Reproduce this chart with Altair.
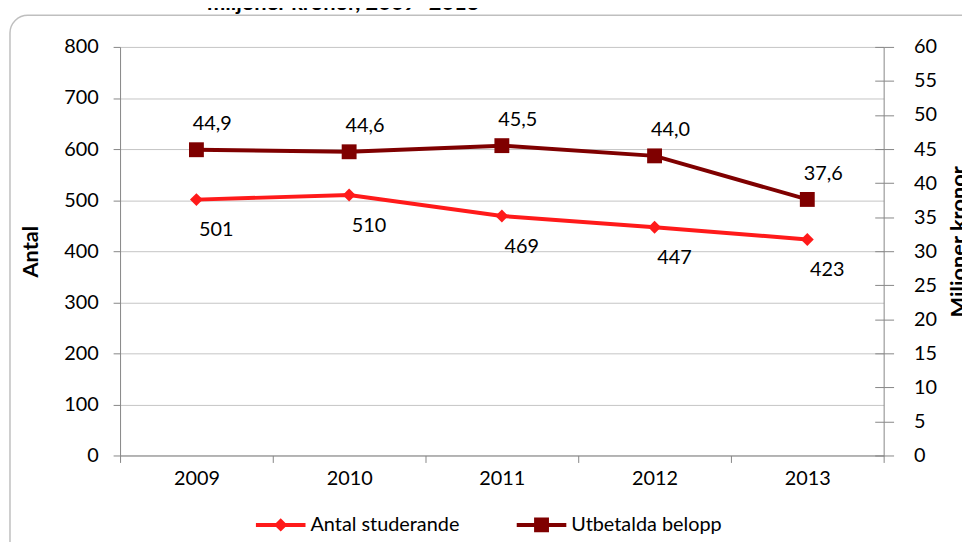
import altair as alt
import pandas as pd

# ---- data ----
years = ["2009", "2010", "2011", "2012", "2013"]
antal = [501, 510, 469, 447, 423]
belopp = [44.9, 44.6, 45.5, 44.0, 37.6]
series_names = ["Antal studerande", "Utbetalda belopp"]
left_ticks = [0, 100, 200, 300, 400, 500, 600, 700, 800]
right_ticks = [0, 5, 10, 15, 20, 25, 30, 35, 40, 45, 50, 55, 60]
title_text = "miljoner kronor, 2009–2013"

RED = "#FF1A1A"
DARK = "#7F0000"
AXC = "#868686"
GRID = "#C4C4C4"
FONT = "Lato"
TXT = "#000000"

df_a = pd.DataFrame({"year": years, "antal": antal})
df_b = pd.DataFrame({"year": years, "belopp": belopp})
df_leg = pd.DataFrame({"series": series_names})
one = pd.DataFrame({"k": [0]})

xscale = alt.Scale(type="band", paddingInner=0, paddingOuter=0, domain=years)
xaxis = alt.Axis(title=None, tickBand="extent", tickSize=7, labelPadding=6,
                 labelAngle=0, domainColor=AXC, tickColor=AXC, labelFont=FONT,
                 labelFontSize=20, labelColor=TXT, grid=False)
X = alt.X("year:O", scale=xscale, axis=xaxis)

yl = alt.Y("antal:Q", scale=alt.Scale(domain=[0, 800]),
           axis=alt.Axis(values=left_ticks, title="Antal", tickSize=7, labelPadding=15,
                         domainColor=AXC, tickColor=AXC, gridColor=GRID, grid=True,
                         labelFont=FONT, labelFontSize=20, labelColor=TXT,
                         titleFont=FONT, titleFontSize=22, titleFontWeight="bold",
                         titleColor=TXT, titleAngle=-90, titleX=-90, titleY=206,
                         titleAlign="center", titleBaseline="middle"))
yr = alt.Y("belopp:Q", scale=alt.Scale(domain=[0, 60]),
           axis=alt.Axis(values=right_ticks, orient="right", title="Miljoner kronor",
                         tickSize=10, labelPadding=20, domainColor=AXC, tickColor=AXC,
                         grid=True, gridColor=AXC, gridDash=[9, 2000],
                         labelFont=FONT, labelFontSize=20, labelColor=TXT,
                         titleFont=FONT, titleFontSize=22, titleFontWeight="bold",
                         titleColor=TXT, titleAngle=-90, titleX=76, titleY=196,
                         titleAlign="center", titleBaseline="middle"))

base_a = alt.Chart(df_a).encode(x=X, y=yl)
layer_a = alt.layer(
    base_a.mark_line(color=RED, strokeWidth=4),
    base_a.mark_point(shape="diamond", filled=True, size=169, color=RED, opacity=1),
    base_a.mark_text(dx=20, dy=31, font=FONT, fontSize=20, color=TXT,
                     baseline="middle").encode(text=alt.Text("antal:Q", format="d")),
)

base_b = alt.Chart(df_b).encode(x=X, y=yr)
layer_b = alt.layer(
    base_b.mark_line(color=DARK, strokeWidth=4),
    base_b.mark_point(shape="square", filled=True, size=225, color=DARK, opacity=1),
    base_b.transform_calculate(lbl="replace(format(datum.belopp, '.1f'), '.', ',')")
    .mark_text(dx=16, dy=-26, font=FONT, fontSize=20, color=TXT, baseline="middle")
    .encode(text="lbl:N"),
)

path_a = "M-1,-0.08H1V0.08H-1Z M0,-0.27L0.27,0L0,0.27L-0.27,0Z"
path_b = "M-1,-0.08H1V0.08H-1Z M-0.3,-0.3H0.3V0.3H-0.3Z"
leg = alt.Legend(title=None, orient="none", legendX=137, legendY=457,
                 direction="horizontal", columns=2, symbolSize=2500,
                 symbolStrokeWidth=0, labelFont=FONT, labelFontSize=20,
                 labelColor=TXT, labelOffset=5, columnPadding=57, padding=0)
legend_layer = alt.Chart(df_leg).transform_filter("false").mark_point(
    filled=True, opacity=1).encode(
    color=alt.Color("series:N", scale=alt.Scale(domain=series_names, range=[RED, DARK]),
                    legend=leg),
    shape=alt.Shape("series:N", scale=alt.Scale(domain=series_names, range=[path_a, path_b]),
                    legend=leg),
)

border = alt.Chart(one).mark_rect(cornerRadius=18, fillOpacity=0, stroke="#BFBFBF",
                                  strokeWidth=1.5).encode(
    x=alt.value(-111), x2=alt.value(900), y=alt.value(-32), y2=alt.value(520))

title = alt.Chart(one).mark_text(text=title_text, font=FONT, fontSize=22,
                                 fontWeight="bold", color=TXT, align="center",
                                 baseline="alphabetic").encode(
    x=alt.value(225), y=alt.value(-37))

chart = alt.layer(border, title, layer_a, layer_b, legend_layer).resolve_scale(
    y="independent"
).properties(
    width=770, height=412,
    padding={"left": 113, "top": 37, "right": 79, "bottom": 85},
    autosize=alt.AutoSizeParams(type="none"),
    background="white",
).configure_view(stroke=None)

chart.save("out.html", embed_options={"renderer": "svg", "actions": False})
